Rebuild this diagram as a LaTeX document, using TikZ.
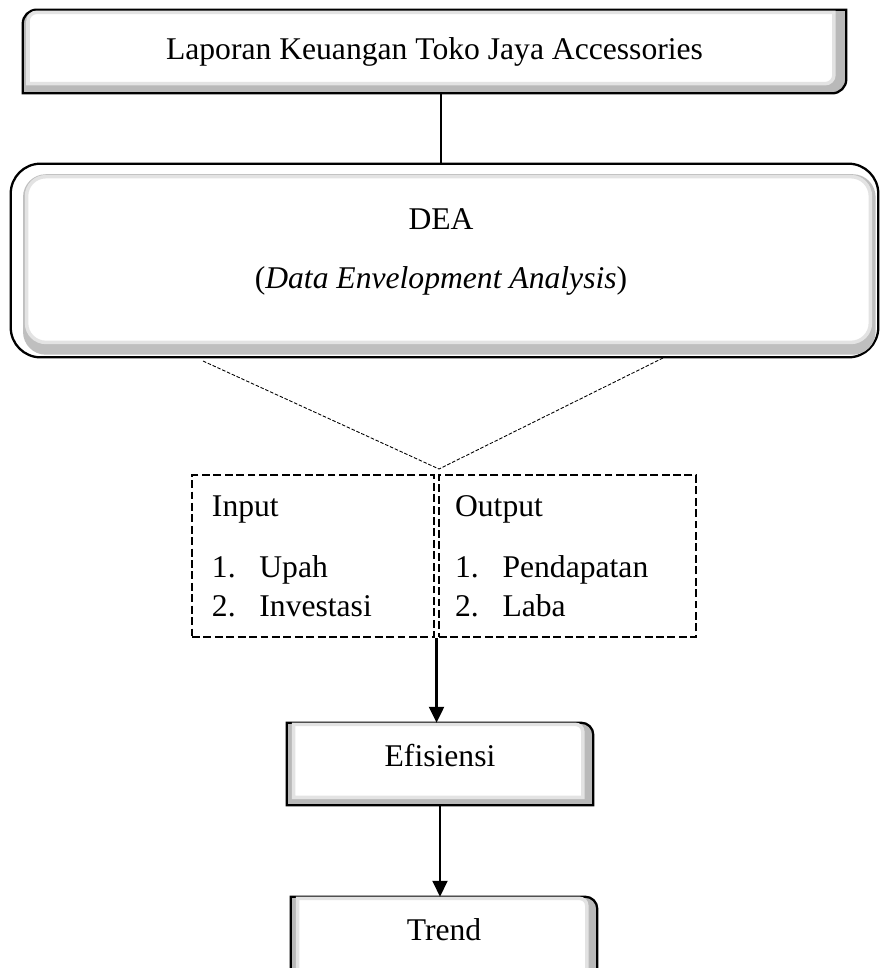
\documentclass[tikz,border=0pt]{standalone}
\usepackage{fontspec}
\setmainfont{Liberation Serif}
\usetikzlibrary{arrows.meta, positioning, calc, backgrounds}

% outlines of the bevelled boxes: node, left, top, right, bottom inset, corner radius
\newcommand{\cornerTLBR}[6]{($(#1.south west)+(#2,#5)$) -- ($(#1.north west)+(#2,-#3-#6)$) arc[start angle=180, end angle=90, radius=#6] -- ($(#1.north east)+(-#4,-#3)$) -- ($(#1.south east)+(-#4,#5+#6)$) arc[start angle=0, end angle=-90, radius=#6] -- cycle}
\newcommand{\cornerTR}[6]{($(#1.south west)+(#2,#5)$) -- ($(#1.north west)+(#2,-#3)$) -- ($(#1.north east)+(-#4-#6,-#3)$) arc[start angle=90, end angle=0, radius=#6] -- ($(#1.south east)+(-#4,#5)$) -- cycle}

\begin{document}
\begin{tikzpicture}[
    x=0.02cm, y=-0.02cm,
    box/.style={font=\fontsize{18}{22}\selectfont, align=center, inner sep=0pt},
    strut/.style={text height=9.5pt, text depth=6.5pt},
    rim/.style={draw=black, line width=1.3pt, fill=gray!55},
    face/.style={draw=gray!22, line width=2pt, fill=white},
    io/.style={draw, line width=1.4pt, dash pattern=on 4.5pt off 2pt,
        font=\fontsize{18}{22}\selectfont, align=left, minimum height=3.24cm, inner ysep=0pt},
    link/.style={line width=0.5pt, dash pattern=on 2pt off 1pt},
    arr/.style={-{Triangle[length=9pt, width=8.5pt]}, line width=1.3pt}
]
    \useasboundingbox (0,0) rectangle (882,968);

    \node[box, text height=12.8pt, text depth=3.2pt, minimum width=16.46cm, minimum height=1.66cm] (lap) at (434.5,51.5) {Laporan Keuangan Toko Jaya Accessories};
    \node[box, minimum width=17.34cm, minimum height=3.86cm] (dea) at (444.5,260.5) {};
    \node[box] (deatext) at (441,252) {DEA\\[12pt](\textit{Data Envelopment Analysis})};

    \node[io, minimum width=4.84cm, text width=115pt, inner xsep=11pt] (inp) at (313,556)
        {Input\\[13pt]\makebox[27pt][l]{1.}Upah\\\makebox[27pt][l]{2.}Investasi};
    \node[io, minimum width=5.14cm, text width=128pt, inner xsep=9pt, right=1.5pt of inp] (outp)
        {Output\\[13pt]\makebox[27pt][l]{1.}Pendapatan\\\makebox[27pt][l]{2.}Laba};

    \node[box, strut, minimum width=6.12cm, minimum height=1.64cm] (eff) at (440,764) {Efisiensi};
    \node[box, strut, minimum width=6.12cm, minimum height=1.64cm] (trend) at (444,938) {Trend};

    \begin{scope}[on background layer]
        \draw[rim] \cornerTLBR{lap}{0pt}{0pt}{0pt}{0pt}{8pt};
        \draw[face] \cornerTLBR{lap}{3pt}{1.5pt}{7pt}{5.5pt}{5pt};
        \draw[rim, fill=white, rounded corners=17pt] (dea.south west) rectangle (dea.north east);
        \fill[gray!50, rounded corners=13pt] ($(dea.south west)+(7pt,1.5pt)$) rectangle ($(dea.north east)+(-1.5pt,-6pt)$);
        \draw[face, rounded corners=11pt] ($(dea.south west)+(9pt,8.5pt)$) rectangle ($(dea.north east)+(-4.5pt,-7.4pt)$);
        \draw[rim] \cornerTR{eff}{0pt}{0pt}{0pt}{0pt}{7pt};
        \draw[face] \cornerTR{eff}{4pt}{1pt}{6pt}{4.5pt}{4pt};
        \draw[rim] \cornerTR{trend}{0pt}{0pt}{0pt}{0pt}{7pt};
        \draw[face] \cornerTR{trend}{4pt}{1pt}{6pt}{4.5pt}{4pt};
    \end{scope}

    \coordinate (vl) at (203,361);
    \coordinate (vr) at (665,357);
    \coordinate (vtip) at (439,469);
    \coordinate (top) at ($(lap.south)+(6.5,0)$);
    \coordinate (split) at ($(inp.south east)!0.5!(outp.south west)$);

    \draw[line width=0.6pt] (top) -- (top |- dea.north);
    \draw[link] (vl) -- (vtip) -- (vr);
    \draw[arr] (split) -- (split |- eff.north);
    \draw[arr] (eff.south) -- (eff.south |- trend.north);
\end{tikzpicture}
\end{document}
